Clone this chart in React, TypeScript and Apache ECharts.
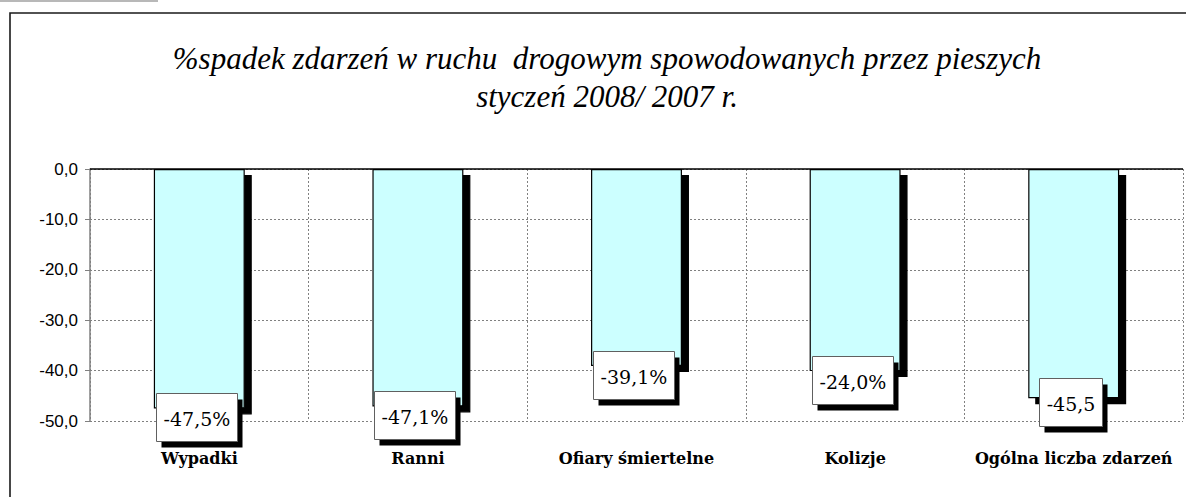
import React, { useEffect, useRef } from "react";
import * as echarts from "echarts";

const categories = ["Wypadki", "Ranni", "Ofiary śmiertelne", "Kolizje", "Ogólna liczba zdarzeń"];
const barValues = [-47.5, -47.1, -39.1, -40.1, -45.5];
const barLabels = ["-47,5%", "-47,1%", "-39,1%", "-24,0%", "-45,5"];
const titleLines = [
  "%spadek zdarzeń w ruchu  drogowym spowodowanych przez pieszych",
  "styczeń 2008/ 2007 r.",
];
const yMin = -50;
const yMax = 0;
const yStep = 10;

const TITLE_FONT = "Liberation Serif";
const LABEL_FONT = "DejaVu Serif";
const LABEL_FONT_SIZE = 19;

function measure(text: string, font: string): number {
  const c = document.createElement("canvas").getContext("2d");
  if (!c) return text.length * 11;
  c.font = font;
  return c.measureText(text).width;
}

export default function App() {
  const ref = useRef<HTMLDivElement>(null);
  useEffect(() => {
    if (!ref.current) return;
    const chart = echarts.init(ref.current, undefined, { renderer: "svg" });
    const labelData = barValues.map((v, i) => [i, v]);
    chart.setOption({
      animation: false,
      backgroundColor: "#ffffff",
      graphic: [
        { type: "rect", shape: { x: 0, y: 0, width: 158, height: 2 }, style: { fill: "#b8b8b8" } },
        {
          type: "rect",
          shape: { x: 10, y: 13, width: 1300, height: 700 },
          style: { fill: "none", stroke: "#1a1a1a", lineWidth: 1.6 },
          z: 10,
        },
        {
          type: "text",
          x: 607,
          y: 58,
          style: {
            text: titleLines[0],
            fontStyle: "italic",
            fontSize: 31,
            fontFamily: TITLE_FONT,
            fill: "#000",
            align: "center",
            verticalAlign: "middle",
          },
        },
        {
          type: "text",
          x: 607,
          y: 96,
          style: {
            text: titleLines[1],
            fontStyle: "italic",
            fontSize: 31,
            fontFamily: TITLE_FONT,
            fill: "#000",
            align: "center",
            verticalAlign: "middle",
          },
        },
      ],
      grid: { left: 90, right: 3, top: 169, bottom: 76, containLabel: false },
      xAxis: {
        type: "category",
        data: categories,
        position: "bottom",
        axisLine: { show: false, onZero: false },
        axisTick: { show: false },
        splitLine: { show: true, lineStyle: { color: "#808080", type: [2, 2], width: 1 } },
        axisLabel: {
          margin: 29,
          color: "#000",
          fontFamily: "DejaVu Serif",
          fontWeight: "bold",
          fontSize: 16,
          interval: 0,
        },
      },
      yAxis: {
        type: "value",
        min: yMin,
        max: yMax,
        interval: yStep,
        axisLine: { show: true, lineStyle: { color: "#808080", width: 1.5 } },
        axisTick: { show: true, inside: false, length: 5, lineStyle: { color: "#808080" } },
        splitLine: { show: true, lineStyle: { color: "#808080", type: [2, 2], width: 1 } },
        axisLabel: {
          margin: 12,
          color: "#000",
          fontFamily: "Liberation Sans",
          fontSize: 17,
          formatter: (v: number) => v.toFixed(1).replace(".", ","),
        },
      },
      series: [
        {
          type: "bar",
          data: barValues,
          barWidth: "41.6%",
          itemStyle: {
            color: "#ccffff",
            borderColor: "#000",
            borderWidth: 1.2,
            shadowColor: "#000",
            shadowBlur: 0,
            shadowOffsetX: 7,
            shadowOffsetY: 6,
          },
          emphasis: { disabled: true },
          markLine: {
            silent: true,
            symbol: "none",
            label: { show: false },
            lineStyle: { color: "#000", type: "solid", width: 1.5 },
            data: [{ yAxis: 0 }],
          },
        },
        {
          type: "custom",
          data: labelData,
          encode: { x: 0, y: 1 },
          z: 5,
          silent: true,
          renderItem: (params: any, api: any) => {
            const i = params.dataIndex;
            const pt = api.coord([api.value(0), api.value(1)]);
            const text = barLabels[i];
            const w = Math.round(measure(text, `${LABEL_FONT_SIZE}px "${LABEL_FONT}"`)) + 14;
            const h = 48;
            const cx = pt[0] - 3;
            const cy = pt[1] + (i === 4 ? 4 : 9);
            const x = Math.round(cx - w / 2) + 0.5;
            const y = Math.round(cy - h / 2) + 0.5;
            return {
              type: "group",
              children: [
                { type: "rect", shape: { x: x + 5, y: y + 6, width: w, height: h }, style: { fill: "#000" } },
                {
                  type: "rect",
                  shape: { x, y, width: w, height: h },
                  style: { fill: "#fff", stroke: "#606060", lineWidth: 1 },
                },
                {
                  type: "text",
                  x: x + w / 2,
                  y: y + h / 2 + 1,
                  style: {
                    text,
                    fontFamily: LABEL_FONT,
                    fontSize: LABEL_FONT_SIZE,
                    fill: "#000",
                    align: "center",
                    verticalAlign: "middle",
                  },
                },
              ],
            };
          },
        },
      ],
    });
    return () => chart.dispose();
  }, []);
  return <div ref={ref} style={{ position: "fixed", left: 0, top: 0, width: 1186, height: 497 }} />;
}
